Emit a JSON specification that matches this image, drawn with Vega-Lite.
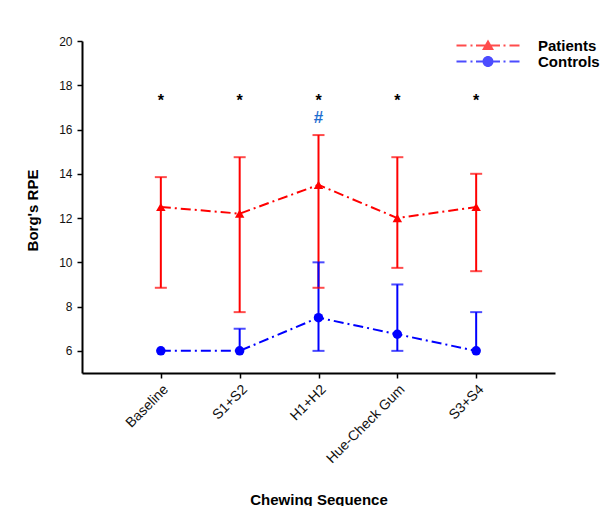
{
  "$schema": "https://vega.github.io/schema/vega-lite/v6.json",
  "width": 473,
  "height": 332,
  "autosize": "none",
  "padding": {"left": 82, "top": 41, "right": 61, "bottom": 133},
  "background": "white",
  "datasets": {
    "stats": [
      {"sequence": "Baseline", "group": "Patients", "mean": 12.5, "lower": 8.85, "upper": 13.85},
      {"sequence": "S1+S2", "group": "Patients", "mean": 12.2, "lower": 7.75, "upper": 14.75},
      {"sequence": "H1+H2", "group": "Patients", "mean": 13.5, "lower": 8.85, "upper": 15.75},
      {"sequence": "Hue-Check Gum", "group": "Patients", "mean": 12.0, "lower": 9.75, "upper": 14.75},
      {"sequence": "S3+S4", "group": "Patients", "mean": 12.5, "lower": 9.6, "upper": 14.0},
      {"sequence": "Baseline", "group": "Controls", "mean": 6.0, "lower": 6.0, "upper": 6.0},
      {"sequence": "S1+S2", "group": "Controls", "mean": 6.0, "lower": 6.0, "upper": 7.0},
      {"sequence": "H1+H2", "group": "Controls", "mean": 7.5, "lower": 6.0, "upper": 10.0},
      {"sequence": "Hue-Check Gum", "group": "Controls", "mean": 6.75, "lower": 6.0, "upper": 9.0},
      {"sequence": "S3+S4", "group": "Controls", "mean": 6.0, "lower": 6.0, "upper": 7.75}
    ],
    "marks": [
      {"sequence": "Baseline", "symbol": "*", "value": 17.3},
      {"sequence": "S1+S2", "symbol": "*", "value": 17.3},
      {"sequence": "H1+H2", "symbol": "*", "value": 17.3},
      {"sequence": "Hue-Check Gum", "symbol": "*", "value": 17.3},
      {"sequence": "S3+S4", "symbol": "*", "value": 17.3},
      {"sequence": "H1+H2", "symbol": "#", "value": 16.5}
    ]
  },
  "encoding": {
    "x": {
      "field": "sequence",
      "type": "nominal",
      "sort": null,
      "scale": {"type": "point", "padding": 1, "domain": ["Baseline", "S1+S2", "H1+H2", "Hue-Check Gum", "S3+S4"]},
      "axis": {
        "title": "Chewing Sequence",
        "labelAngle": -45,
        "labelAlign": "right",
        "labelBaseline": "top",
        "labelPadding": 4,
        "labelFontSize": 14,
        "titleX": 236.5,
        "titleY": 119,
        "titleBaseline": "top"
      }
    }
  },
  "layer": [
    {
      "data": {"name": "stats"},
      "mark": {"type": "point", "filled": true, "opacity": 1, "fillOpacity": 1, "size": 0},
      "encoding": {
        "y": {
          "field": "mean",
          "type": "quantitative",
          "scale": {"domain": [5, 20], "nice": false, "zero": false},
          "axis": {
            "title": "Borg's RPE",
            "values": [6, 8, 10, 12, 14, 16, 18, 20],
            "titleX": -41.5,
            "titleY": 169,
            "titleBaseline": "bottom",
            "labelPadding": 5
          }
        },
        "shape": {
          "field": "group",
          "type": "nominal",
          "scale": {
            "domain": ["Patients", "Controls"],
            "range": [
              "M-6.3,-0.18H-4.3V0.18H-6.3ZM-3.5,-0.18H-3.1V0.18H-3.5ZM-2.4,-0.18H2.4V0.18H-2.4ZM3.1,-0.18H3.5V0.18H3.1ZM4.3,-0.18H6.3V0.18H4.3ZM0,-1.2L1.2,0.9L-1.2,0.9Z",
              "M-6.3,-0.18H-4.3V0.18H-6.3ZM-3.5,-0.18H-3.1V0.18H-3.5ZM-2.4,-0.18H2.4V0.18H-2.4ZM3.1,-0.18H3.5V0.18H3.1ZM4.3,-0.18H6.3V0.18H4.3ZM-1.1,0A1.1,1.1,0,1,1,1.1,0A1.1,1.1,0,1,1,-1.1,0Z"
            ]
          }
        },
        "color": {
          "field": "group",
          "type": "nominal",
          "scale": {"domain": ["Patients", "Controls"], "range": ["#ff0000", "#0000ff"]},
          "legend": {
            "title": null,
            "orient": "none",
            "legendX": 398.5,
            "legendY": -3,
            "symbolSize": 100,
            "symbolOpacity": 1,
            "symbolStrokeWidth": 0,
            "labelOffset": 42.5,
            "rowPadding": 0,
            "labelFont": "Liberation Sans",
            "labelFontSize": 15,
            "labelFontWeight": "bold",
            "labelColor": "#000000"
          }
        }
      }
    },
    {
      "data": {"name": "stats"},
      "mark": {"type": "rule", "strokeWidth": 2},
      "encoding": {
        "y": {"field": "lower", "type": "quantitative"},
        "y2": {"field": "upper"},
        "color": {"field": "group", "type": "nominal"}
      }
    },
    {
      "data": {"name": "stats"},
      "transform": [{"filter": "datum.upper > datum.mean"}],
      "mark": {"type": "tick", "size": 12, "thickness": 2},
      "encoding": {
        "y": {"field": "upper", "type": "quantitative"},
        "color": {"field": "group", "type": "nominal"}
      }
    },
    {
      "data": {"name": "stats"},
      "transform": [{"filter": "datum.lower < datum.mean"}],
      "mark": {"type": "tick", "size": 12, "thickness": 2},
      "encoding": {
        "y": {"field": "lower", "type": "quantitative"},
        "color": {"field": "group", "type": "nominal"}
      }
    },
    {
      "data": {"name": "stats"},
      "mark": {"type": "line", "strokeWidth": 2, "strokeDash": [10, 4, 2, 4]},
      "encoding": {
        "y": {"field": "mean", "type": "quantitative"},
        "color": {"field": "group", "type": "nominal"},
        "detail": {"field": "group"}
      }
    },
    {
      "data": {"name": "stats"},
      "transform": [{"filter": "datum.group === 'Patients'"}],
      "mark": {"type": "point", "filled": true, "opacity": 1, "size": 90, "shape": "triangle-up"},
      "encoding": {
        "y": {"field": "mean", "type": "quantitative"},
        "color": {"field": "group", "type": "nominal"}
      }
    },
    {
      "data": {"name": "stats"},
      "transform": [{"filter": "datum.group === 'Controls'"}],
      "mark": {"type": "point", "filled": true, "opacity": 1, "size": 90, "shape": "circle"},
      "encoding": {
        "y": {"field": "mean", "type": "quantitative"},
        "color": {"field": "group", "type": "nominal"}
      }
    },
    {
      "data": {"name": "marks"},
      "transform": [{"filter": "datum.symbol === '*'"}],
      "mark": {"type": "text", "fontSize": 16, "fontWeight": "bold", "color": "#000000", "baseline": "middle", "font": "Liberation Sans"},
      "encoding": {
        "y": {"field": "value", "type": "quantitative"},
        "text": {"field": "symbol"}
      }
    },
    {
      "data": {"name": "marks"},
      "transform": [{"filter": "datum.symbol === '#'"}],
      "mark": {"type": "text", "fontSize": 17, "fontWeight": "bold", "color": "#1f6fd0", "baseline": "middle", "font": "Liberation Sans"},
      "encoding": {
        "y": {"field": "value", "type": "quantitative"},
        "text": {"field": "symbol"}
      }
    }
  ],
  "config": {
    "view": {"stroke": null},
    "axis": {
      "grid": false,
      "domainColor": "#000000",
      "domainWidth": 2,
      "tickColor": "#000000",
      "tickWidth": 1.5,
      "tickSize": 5,
      "labelFont": "Liberation Sans",
      "labelFontSize": 12,
      "labelColor": "#111111",
      "titleFont": "Liberation Sans",
      "titleFontSize": 15,
      "titleFontWeight": "bold",
      "titleColor": "#000000"
    }
  }
}
